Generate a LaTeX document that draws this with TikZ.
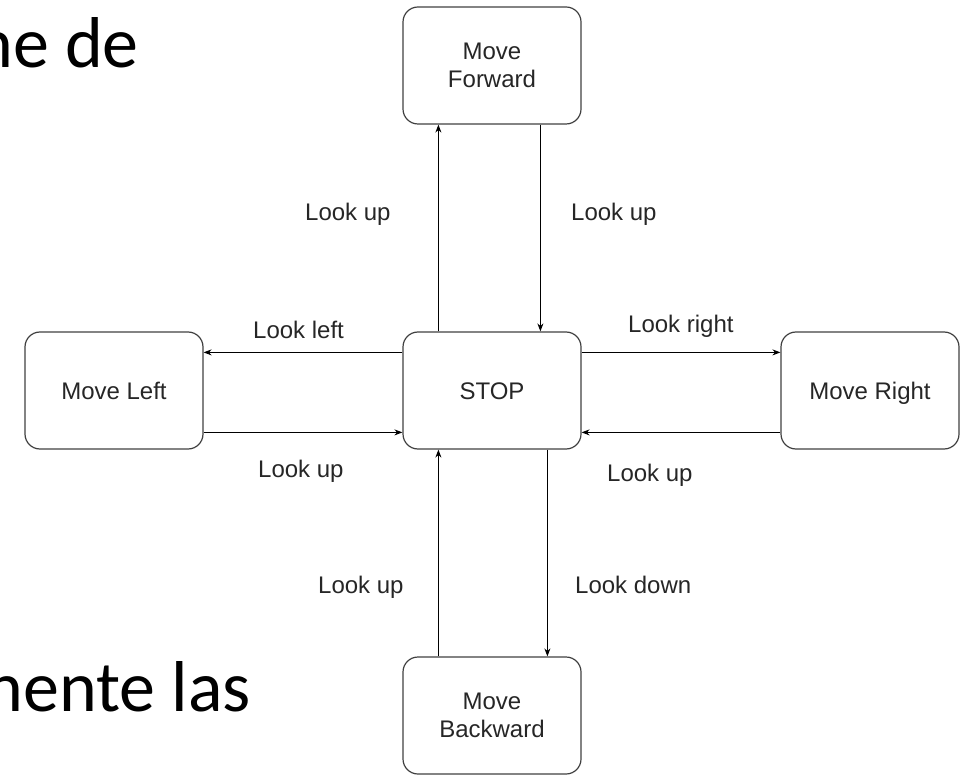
\documentclass[tikz,border=0pt]{standalone}
\usepackage{fontspec}
\setmainfont{Liberation Sans}
\newfontfamily\slidefont{Carlito}
\usetikzlibrary{arrows.meta}
\begin{document}
\begin{tikzpicture}[x=1pt,y=-1pt,
  state/.style={draw=black!75, line width=1.2pt, rounded corners=15pt,
    minimum width=178pt, minimum height=117pt, align=center,
    font=\fontsize{24}{28}\selectfont, text=black!85, inner sep=0pt},
  oneline/.style={text height=18pt, text depth=0pt},
  arr/.style={line width=0.9pt, -{Stealth[length=8pt,width=6pt]}},
  lbl/.style={font=\fontsize{24}{28}\selectfont, text=black!85,
    anchor=base west, inner sep=0pt},
  slide/.style={font=\slidefont\fontsize{72}{86}\selectfont,
    anchor=base east, inner sep=0pt}]
\useasboundingbox (0,0) rectangle (969,775);
\clip (0,0) rectangle (969,775);
% cut-off slide text
\node[slide] (s1) at (139,68) {ne de};
\node[slide] (s2) at (251,711) {nente las};
% states
\node[state] (fwd) at (492,65.5) {Move\\Forward};
\node[state, oneline] (stop) at (492,390.5) {STOP};
\node[state, oneline] (left) at (114,390.5) {Move Left};
\node[state, oneline] (right) at (870,390.5) {Move Right};
\node[state] (back) at (492,715.5) {Move\\Backward};
% transitions
\draw[arr] ([xshift=36pt]stop.north west) -- ([xshift=36pt]fwd.south west);
\draw[arr] ([xshift=138pt]fwd.south west) -- ([xshift=138pt]stop.north west);
\draw[arr] ([yshift=-21pt]stop.north west) -- ([yshift=-21pt]left.north east);
\draw[arr] ([yshift=-101pt]left.north east) -- ([yshift=-101pt]stop.north west);
\draw[arr] ([yshift=-21pt]stop.north east) -- ([yshift=-21pt]right.north west);
\draw[arr] ([yshift=-101pt]right.north west) -- ([yshift=-101pt]stop.north east);
\draw[arr] ([xshift=36pt]back.north west) -- ([xshift=36pt]stop.south west);
\draw[arr] ([xshift=145pt]stop.south west) -- ([xshift=145pt]back.north west);
% labels
\node[lbl] (l1) at (305,221) {Look up};
\node[lbl] (l2) at (571,221) {Look up};
\node[lbl] (l3) at (253,339) {Look left};
\node[lbl] (l4) at (628,333) {Look right};
\node[lbl] (l5) at (258,477) {Look up};
\node[lbl] (l6) at (607,481) {Look up};
\node[lbl] (l7) at (318,593) {Look up};
\node[lbl] (l8) at (575,593) {Look down};
\end{tikzpicture}
\end{document}
